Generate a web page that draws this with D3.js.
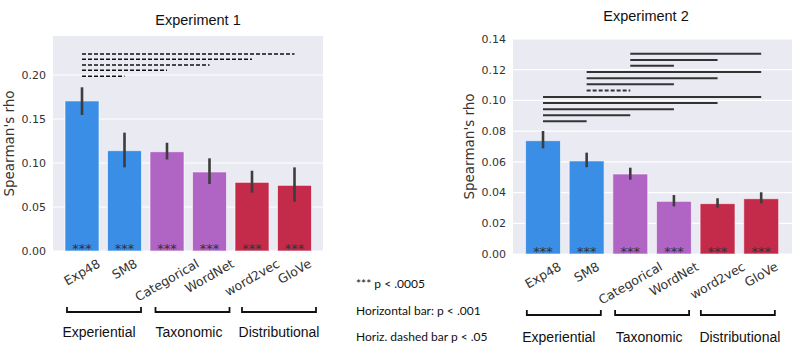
<!DOCTYPE html>
<html>
<head>
<meta charset="utf-8">
<script src="https://cdn.jsdelivr.net/npm/d3@7"></script>
<style>
  body { margin: 0; background: #fff; }
  svg { display: block; }
</style>
</head>
<body>
<svg id="chart" width="802" height="353"></svg>
<script>
// categories and groups
var categories = ["Exp48", "SM8", "Categorical", "WordNet", "word2vec", "GloVe"];
var barColors = ["#3a8ee5", "#3a8ee5", "#b064c4", "#b064c4", "#c42b4b", "#c42b4b"];
var groupNames = ["Experiential", "Taxonomic", "Distributional"];
var groupMembers = [["Exp48", "SM8"], ["Categorical", "WordNet"], ["word2vec", "GloVe"]];

// Experiment 1 (mean, lower CI, upper CI)
var exp1Means = [0.1705, 0.114, 0.1128, 0.0898, 0.078, 0.0746];
var exp1Lo    = [0.1545, 0.095, 0.104, 0.0761, 0.0663, 0.056];
var exp1Hi    = [0.186, 0.1345, 0.123, 0.1053, 0.0912, 0.095];
var exp1Ticks = [0.00, 0.05, 0.10, 0.15, 0.20];
// significance bars: [from, to, rho level, dashed]
var exp1Sig = [
  ["Exp48", "GloVe", 0.2239, true],
  ["Exp48", "word2vec", 0.2178, true],
  ["Exp48", "WordNet", 0.2114, true],
  ["Exp48", "Categorical", 0.2053, true],
  ["Exp48", "SM8", 0.1985, true]
];

// Experiment 2
var exp2Means = [0.0738, 0.0606, 0.0521, 0.0343, 0.0328, 0.036];
var exp2Lo    = [0.0688, 0.0565, 0.0484, 0.031, 0.0302, 0.033];
var exp2Hi    = [0.0801, 0.066, 0.0562, 0.0384, 0.0363, 0.0402];
var exp2Ticks = [0.00, 0.02, 0.04, 0.06, 0.08, 0.10, 0.12, 0.14];
var exp2Sig = [
  ["Categorical", "GloVe", 0.1304, false],
  ["Categorical", "word2vec", 0.1263, false],
  ["Categorical", "WordNet", 0.1226, false],
  ["SM8", "GloVe", 0.1185, false],
  ["SM8", "word2vec", 0.1144, false],
  ["SM8", "WordNet", 0.1105, false],
  ["SM8", "Categorical", 0.1064, true],
  ["Exp48", "GloVe", 0.1022, false],
  ["Exp48", "word2vec", 0.0983, false],
  ["Exp48", "WordNet", 0.0942, false],
  ["Exp48", "Categorical", 0.0903, false],
  ["Exp48", "SM8", 0.0864, false]
];

var legendLines = ["*** p < .0005", "Horizontal bar: p < .001", "Horiz. dashed bar p < .05"];

var svg = d3.select("#chart");
var tickFont = "DejaVu Sans, sans-serif";

function drawPanel(opt) {
    var g = svg.append("g");

    var xScale = d3.scaleBand()
                   .domain(categories)
                   .range([opt.bandLeft, opt.bandRight])
                   .paddingInner(0.2)
                   .paddingOuter(0.1);

    var yScale = d3.scaleLinear()
                   .domain(opt.yDomain)
                   .range([opt.bottom, opt.top]);

    // background
    g.append("rect")
     .attr("x", opt.left)
     .attr("y", opt.top)
     .attr("width", opt.right - opt.left)
     .attr("height", opt.bottom - opt.top)
     .attr("fill", "#eaeaf2");

    // grid
    g.selectAll(".grid")
     .data(opt.ticks)
     .enter()
     .append("line")
     .attr("x1", opt.left)
     .attr("x2", opt.right)
     .attr("y1", d => yScale(d))
     .attr("y2", d => yScale(d))
     .attr("stroke", "#fff")
     .attr("stroke-width", 1.2);

    // y tick labels
    g.selectAll(".ytick")
     .data(opt.ticks)
     .enter()
     .append("text")
     .attr("x", opt.left - 7)
     .attr("y", d => yScale(d))
     .attr("dy", "0.35em")
     .attr("text-anchor", "end")
     .attr("fill", "#333")
     .style("font-family", tickFont)
     .style("font-size", "11px")
     .text(d => d.toFixed(2));

    // y label
    g.append("text")
     .text("Spearman's rho")
     .attr("transform", `translate(${opt.ylabelX},${(opt.top + opt.bottom) / 2}) rotate(-90)`)
     .attr("text-anchor", "middle")
     .attr("fill", "#333")
     .style("font-family", tickFont)
     .style("font-size", "13.5px");

    var cx = d => xScale(d) + xScale.bandwidth() / 2;

    // bars
    g.selectAll(".bar")
     .data(categories)
     .enter()
     .append("rect")
     .attr("x", d => xScale(d))
     .attr("width", xScale.bandwidth())
     .attr("y", (d, i) => yScale(opt.means[i]))
     .attr("height", (d, i) => yScale(0) - yScale(opt.means[i]))
     .attr("fill", (d, i) => barColors[i])
     .attr("stroke", "#fff")
     .attr("stroke-opacity", 0.6)
     .attr("stroke-width", 1);

    // error bars
    g.selectAll(".err")
     .data(categories)
     .enter()
     .append("line")
     .attr("x1", cx)
     .attr("x2", cx)
     .attr("y1", (d, i) => yScale(opt.lo[i]))
     .attr("y2", (d, i) => yScale(opt.hi[i]))
     .attr("stroke", "#3d3d3d")
     .attr("stroke-width", 2.6);

    // stars
    g.selectAll(".stars")
     .data(categories)
     .enter()
     .append("text")
     .attr("x", cx)
     .attr("y", yScale(0) + opt.starDy)
     .attr("text-anchor", "middle")
     .attr("fill", "#333")
     .style("font-family", tickFont)
     .style("font-size", "13px")
     .text("***");

    // significance bars
    g.selectAll(".sig")
     .data(opt.sig)
     .enter()
     .append("line")
     .attr("x1", d => cx(d[0]))
     .attr("x2", d => cx(d[1]))
     .attr("y1", d => yScale(d[2]))
     .attr("y2", d => yScale(d[2]))
     .attr("stroke", opt.sigColor)
     .attr("stroke-width", opt.sigWidth)
     .attr("stroke-dasharray", d => d[3] ? "4,2" : null);

    // x tick labels, rotated 30 deg, centred on tick
    categories.forEach(function(c) {
        var lg = g.append("g");
        var t = lg.append("text")
                  .text(c)
                  .attr("text-anchor", "middle")
                  .attr("dy", "0.35em")
                  .attr("fill", "#333")
                  .style("font-family", tickFont)
                  .style("font-size", "12.5px")
                  .attr("transform", "rotate(-30)");
        var w = t.node().getComputedTextLength();
        var halfH = (w * 0.5 + 12.5 * 0.866) / 2;
        lg.attr("transform", `translate(${cx(c)},${opt.bottom + opt.labelGap + halfH})`);
    });

    // group brackets
    groupMembers.forEach(function(m, i) {
        var mid = (cx(m[0]) + cx(m[1])) / 2 + opt.bracketShift[i];
        var x1 = mid - 37;
        var x2 = mid + 37;
        var yb = opt.bracketY;
        g.append("path")
         .attr("d", `M${x1},${yb - 5}V${yb}H${x2}V${yb - 5}`)
         .attr("fill", "none")
         .attr("stroke", "#111")
         .attr("stroke-width", 1.8);
        g.append("text")
         .text(groupNames[i])
         .attr("x", mid + opt.groupShift[i])
         .attr("y", opt.groupLabelY)
         .attr("text-anchor", "middle")
         .attr("fill", "#111")
         .style("font-family", "Liberation Sans, Arial, sans-serif")
         .style("font-size", "14px");
    });

    // title
    g.append("text")
     .text(opt.title)
     .attr("x", opt.titleX)
     .attr("y", opt.titleY)
     .attr("text-anchor", "middle")
     .attr("fill", "#111")
     .style("font-family", "Liberation Sans, Arial, sans-serif")
     .style("font-size", "14.5px");
}

drawPanel({
    left: 53, right: 323, top: 36, bottom: 251,
    bandLeft: 60.75, bandRight: 315.75,
    yDomain: [0, 0.2443],
    ticks: exp1Ticks,
    means: exp1Means, lo: exp1Lo, hi: exp1Hi,
    sig: exp1Sig, sigColor: "#111", sigWidth: 1.6,
    starDy: 2,
    labelGap: 6,
    ylabelX: 14,
    bracketY: 312, bracketShift: [0.75, 4.25, 5.75],
    groupLabelY: 337, groupShift: [-5, -3.5, 0],
    title: "Experiment 1", titleX: 198, titleY: 25
});

drawPanel({
    left: 513, right: 792, top: 39, bottom: 254,
    bandLeft: 521.2, bandRight: 783,
    yDomain: [0, 0.14],
    ticks: exp2Ticks,
    means: exp2Means, lo: exp2Lo, hi: exp2Hi,
    sig: exp2Sig, sigColor: "#333", sigWidth: 2,
    starDy: 1.5,
    labelGap: 6,
    ylabelX: 474,
    bracketY: 315, bracketShift: [-1, 0, -1.5],
    groupLabelY: 342, groupShift: [-5, -3, 2],
    title: "Experiment 2", titleX: 646, titleY: 21
});

// legend text
svg.selectAll(".legend")
   .data(legendLines)
   .enter()
   .append("text")
   .attr("x", 356)
   .attr("y", (d, i) => 288 + i * 26.5)
   .attr("fill", "#111")
   .style("font-family", "Lato, sans-serif")
   .style("font-size", "12px")
   .text(d => d);
</script>
</body>
</html>
